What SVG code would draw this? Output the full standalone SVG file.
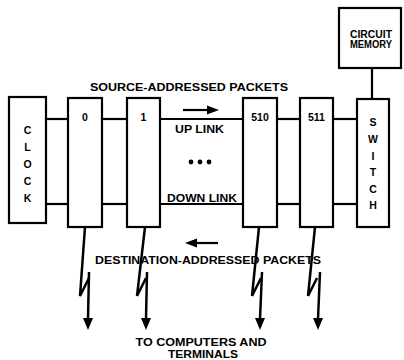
<svg xmlns="http://www.w3.org/2000/svg" width="404" height="360" viewBox="0 0 404 360">
<defs>
<style>
.b{fill:#fff;stroke:#000;stroke-width:2.2}
.l{fill:none;stroke:#000;stroke-width:2.2}
.z{fill:none;stroke:#000;stroke-width:2.5;stroke-linejoin:miter}
.t{font-family:"Liberation Sans",Arial,sans-serif;font-weight:bold;font-size:10.5px;fill:#000;text-anchor:middle}
.s{font-size:10px}
</style>
<marker id="dn" markerUnits="userSpaceOnUse" markerWidth="10" markerHeight="13" refX="5" refY="1" orient="0" viewBox="0 0 10 13">
<path d="M0,0 L10,0 L5,12 Z" fill="#000"/>
</marker>
</defs>
<rect width="404" height="360" fill="#fff"/>
<g id="connectors">
<line class="l" x1="46" y1="119" x2="68" y2="119"/>
<line class="l" x1="46" y1="204" x2="68" y2="204"/>
<line class="l" x1="102" y1="119" x2="127" y2="119"/>
<line class="l" x1="102" y1="204" x2="127" y2="204"/>
<line class="l" x1="160" y1="119" x2="243" y2="119"/>
<line class="l" x1="160" y1="204" x2="243" y2="204"/>
<line class="l" x1="277" y1="119" x2="300" y2="119"/>
<line class="l" x1="277" y1="204" x2="300" y2="204"/>
<line class="l" x1="333" y1="119" x2="357" y2="119"/>
<line class="l" x1="333" y1="204" x2="357" y2="204"/>
<line class="l" x1="372" y1="68" x2="372" y2="99"/>
<path class="z" d="M85,227 L80,296 L89,278"/>
<path class="z" d="M89,272 L88,319" marker-end="url(#dn)"/>
<path class="z" d="M145,227 L137,296 L146,278"/>
<path class="z" d="M147,272 L146,319" marker-end="url(#dn)"/>
<path class="z" d="M259,227 L252,296 L261,278"/>
<path class="z" d="M262,272 L260,319" marker-end="url(#dn)"/>
<path class="z" d="M315,227 L308,296 L317,278"/>
<path class="z" d="M320,272 L318,319" marker-end="url(#dn)"/>
<line class="l" x1="183" y1="110" x2="210" y2="110"/>
<path d="M207,105.5 L219,110 L207,114.5 Z" fill="#000"/>
<line class="l" x1="195" y1="243" x2="218" y2="243"/>
<path d="M197,238.5 L185,243 L197,247.5 Z" fill="#000"/>
</g>
<g id="clock">
<rect class="b" x="9" y="97" width="37" height="126"/>
<text class="t" x="27.5" y="134">C</text>
<text class="t" x="27.5" y="151">L</text>
<text class="t" x="27.5" y="168">O</text>
<text class="t" x="27.5" y="185">C</text>
<text class="t" x="27.5" y="202">K</text>
</g>
<g id="node0">
<rect class="b" x="68" y="98" width="34" height="129"/>
<text class="t" x="85" y="121">0</text>
</g>
<g id="node1">
<rect class="b" x="127" y="98" width="33" height="129"/>
<text class="t" x="143.5" y="121">1</text>
</g>
<g id="node510">
<rect class="b" x="243" y="98" width="34" height="129"/>
<text class="t" x="260" y="121">510</text>
</g>
<g id="node511">
<rect class="b" x="300" y="98" width="33" height="129"/>
<text class="t" x="316.5" y="121">511</text>
</g>
<g id="switch">
<rect class="b" x="357" y="99" width="32" height="128"/>
<text class="t" x="373" y="126">S</text>
<text class="t" x="373" y="143">W</text>
<text class="t" x="373" y="160">I</text>
<text class="t" x="373" y="176">T</text>
<text class="t" x="373" y="193">C</text>
<text class="t" x="373" y="209">H</text>
</g>
<g id="memory">
<rect class="b" x="339" y="8" width="62" height="60"/>
<text class="t s" x="371" y="38" textLength="42" lengthAdjust="spacingAndGlyphs">CIRCUIT</text>
<text class="t s" x="371" y="48" textLength="42" lengthAdjust="spacingAndGlyphs">MEMORY</text>
</g>
<g id="labels">
<text class="t" x="189" y="91" textLength="198" lengthAdjust="spacingAndGlyphs">SOURCE-ADDRESSED PACKETS</text>
<text class="t" x="199.5" y="133" textLength="49" lengthAdjust="spacingAndGlyphs">UP LINK</text>
<circle cx="191" cy="162" r="2.4"/>
<circle cx="200" cy="162" r="2.4"/>
<circle cx="209" cy="162" r="2.4"/>
<text class="t" x="202" y="202" textLength="70" lengthAdjust="spacingAndGlyphs">DOWN LINK</text>
<text class="t" x="208" y="264" textLength="226" lengthAdjust="spacingAndGlyphs">DESTINATION-ADDRESSED PACKETS</text>
<text class="t" x="201" y="346" textLength="131" lengthAdjust="spacingAndGlyphs">TO COMPUTERS AND</text>
<text class="t" x="203" y="358" textLength="70" lengthAdjust="spacingAndGlyphs">TERMINALS</text>
</g>
</svg>
